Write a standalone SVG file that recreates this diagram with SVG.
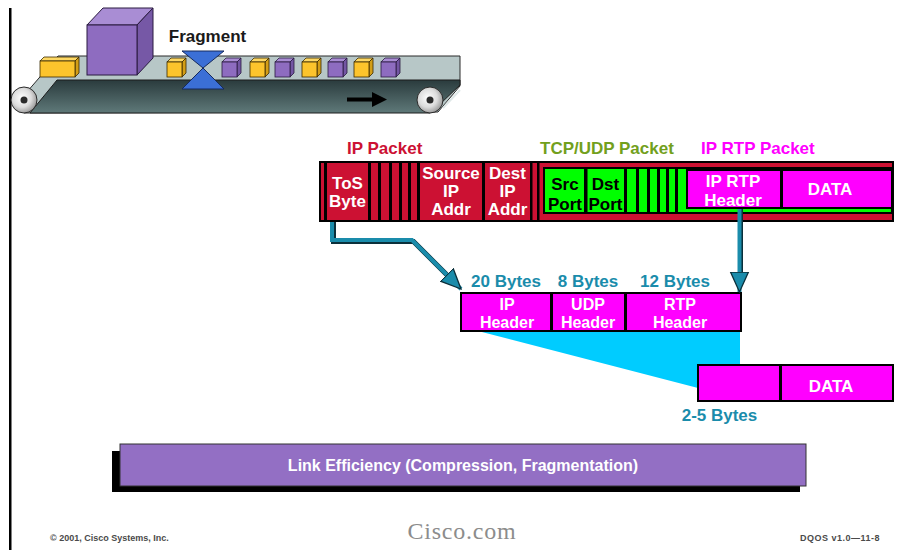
<svg xmlns="http://www.w3.org/2000/svg" width="909" height="550" viewBox="0 0 909 550">
  <style>
    .b { font-family: "Liberation Sans", Arial, sans-serif; font-weight: bold; }
    .lbl { font-size: 17px; }
    .cell { font-size: 17px; fill: #ffffff; text-anchor: middle; }
    .cells { font-size: 16px; fill: #ffffff; text-anchor: middle; }
    .cellk { font-size: 17px; fill: #000000; text-anchor: middle; }
    .teal { fill: #1a8cab; text-anchor: middle; font-size: 17px; }
    .box { stroke: #000; stroke-width: 2; }
    .mag { fill: #ff00ff; }
    .sep { fill: #000; }
    .foot { font-size: 9px; fill: #4a4a4a; }
  </style>
  <defs>
    <linearGradient id="beltFace" x1="0" y1="0" x2="0" y2="1">
      <stop offset="0" stop-color="#2a3b3d"/>
      <stop offset="1" stop-color="#5f7979"/>
    </linearGradient>
    <radialGradient id="rollerFill" cx="0.42" cy="0.42" r="0.65">
      <stop offset="0" stop-color="#ffffff"/>
      <stop offset="0.55" stop-color="#dcdcdc"/>
      <stop offset="1" stop-color="#8c8c8c"/>
    </radialGradient>
    <!-- small parcel cubes: front face 15x15 at origin -->
    <g id="cubeY" stroke="#3a2a00" stroke-width="0.8">
      <polygon points="0,0 4,-4 19,-4 15,0" fill="#fdd864"/>
      <polygon points="15,0 19,-4 19,11 15,15" fill="#d39e17"/>
      <rect x="0" y="0" width="15" height="15" fill="#fcc42c"/>
    </g>
    <g id="cubeP" stroke="#2a1a40" stroke-width="0.8">
      <polygon points="0,0 4,-4 19,-4 15,0" fill="#a98dd4"/>
      <polygon points="15,0 19,-4 19,11 15,15" fill="#7356a3"/>
      <rect x="0" y="0" width="15" height="15" fill="#8e6cc0"/>
    </g>
    <marker id="tealHead" markerUnits="userSpaceOnUse" markerWidth="22" markerHeight="22"
            viewBox="0 0 22 20" refX="20" refY="10" orient="auto">
      <path d="M0,1 L20,10 L0,19 z" fill="#1a8cab" stroke="#0b2f3a" stroke-width="1.3"/>
    </marker>
  </defs>

  <rect width="909" height="550" fill="#ffffff"/>
  <!-- page margin rule -->
  <rect x="9" y="8" width="2.5" height="542" fill="#000"/>

  <!-- conveyor belt scene -->
  <g id="conveyor">
    <polygon points="20,100 58,56 460,56 460,86 438,112 24,113" fill="#b7c7c7" stroke="#2b2b2b" stroke-width="1"/>
    <polygon points="57,80 460,80 460,85 438,106 430,113 30,113" fill="url(#beltFace)" stroke="#1c1c1c" stroke-width="1"/>
    <line x1="443" y1="108" x2="460" y2="90" stroke="#dfe8e8" stroke-width="2"/>
    <circle cx="24" cy="100" r="13" fill="url(#rollerFill)" stroke="#2b2b2b" stroke-width="1"/>
    <circle cx="24" cy="100" r="3.5" fill="#2b2b2b"/>
    <circle cx="430" cy="100" r="13" fill="url(#rollerFill)" stroke="#2b2b2b" stroke-width="1"/>
    <circle cx="430" cy="100" r="3.5" fill="#2b2b2b"/>
    <!-- direction arrow -->
    <rect x="347" y="97.5" width="26" height="4" fill="#000"/>
    <polygon points="372,92 387,99.5 372,107" fill="#000"/>
    <!-- long yellow parcel -->
    <g stroke="#3a2a00" stroke-width="0.8">
      <polygon points="40,61 44,57 79,57 75,61" fill="#fdd864"/>
      <polygon points="75,61 79,57 79,73 75,77" fill="#d39e17"/>
      <rect x="40" y="61" width="35" height="16" fill="#fcc42c"/>
    </g>
    <!-- large cube -->
    <g stroke="#2a1a40" stroke-width="1">
      <polygon points="87,25 103,8 153,8 137,25" fill="#a98dd4"/>
      <polygon points="137,25 153,8 153,58 137,75" fill="#7658a6"/>
      <rect x="87" y="25" width="50" height="50" fill="#8e6cc0"/>
    </g>
    <use href="#cubeY" x="167" y="62"/>
    <use href="#cubeP" x="222" y="62"/>
    <use href="#cubeY" x="250" y="62"/>
    <use href="#cubeP" x="275" y="62"/>
    <use href="#cubeY" x="302" y="62"/>
    <use href="#cubeP" x="328" y="62"/>
    <use href="#cubeY" x="354" y="62"/>
    <use href="#cubeP" x="381" y="62"/>
    <!-- fragmentation hourglass -->
    <g fill="#3b6fd6" stroke="#162a5c" stroke-width="1">
      <polygon points="182,51 224,51 203,68"/>
      <polygon points="203,68 224,89 182,89"/>
    </g>
    <text class="b lbl" x="207.5" y="42" text-anchor="middle" fill="#1a1a1a">Fragment</text>
  </g>

  <!-- packet headings -->
  <g id="headings" class="b lbl">
    <text x="347" y="154" fill="#cc1133">IP Packet</text>
    <text x="540" y="154" fill="#72a01c">TCP/UDP Packet</text>
    <text x="701" y="154" fill="#ff00ff">IP RTP Packet</text>
  </g>

  <!-- nested IP / UDP / RTP packet -->
  <g id="ip-packet">
    <rect x="320" y="162" width="573" height="59" fill="#cc1133" class="box"/>
    <g class="sep">
      <rect x="324" y="163" width="3" height="57"/>
      <rect x="368" y="163" width="3" height="57"/>
      <rect x="378" y="163" width="3" height="57"/>
      <rect x="389" y="163" width="3" height="57"/>
      <rect x="399" y="163" width="3" height="57"/>
      <rect x="408" y="163" width="3" height="57"/>
      <rect x="417" y="163" width="3" height="57"/>
      <rect x="482" y="163" width="3" height="57"/>
      <rect x="530" y="163" width="2.5" height="57"/>
      <rect x="537" y="163" width="2.5" height="57"/>
    </g>
    <text class="b cell" x="347.5" y="189">ToS</text>
    <text class="b cell" x="347.5" y="207">Byte</text>
    <text class="b cell" x="451" y="179">Source</text>
    <text class="b cell" x="451" y="197">IP</text>
    <text class="b cell" x="451" y="215">Addr</text>
    <text class="b cell" x="507.5" y="179">Dest</text>
    <text class="b cell" x="507.5" y="197">IP</text>
    <text class="b cell" x="507.5" y="215">Addr</text>
  </g>

  <g id="udp-packet">
    <rect x="544" y="168" width="348" height="45" fill="#00ff00" class="box"/>
    <g class="sep">
      <rect x="584" y="169" width="3.5" height="43"/>
      <rect x="624" y="169" width="3" height="43"/>
      <rect x="636" y="169" width="3" height="43"/>
      <rect x="647" y="169" width="3" height="43"/>
      <rect x="657" y="169" width="3" height="43"/>
      <rect x="666" y="169" width="3" height="43"/>
      <rect x="675" y="169" width="3" height="43"/>
    </g>
    <text class="b cellk" x="565" y="190">Src</text>
    <text class="b cellk" x="565" y="210">Port</text>
    <text class="b cellk" x="605.5" y="190">Dst</text>
    <text class="b cellk" x="605.5" y="210">Port</text>
  </g>

  <g id="rtp-packet">
    <rect x="687" y="170" width="94" height="38" class="box mag"/>
    <rect x="782" y="170" width="110" height="38" class="box mag"/>
    <text class="b cell" x="733" y="187">IP RTP</text>
    <text class="b cell" x="733" y="206">Header</text>
    <text class="b cell" x="830" y="195">DATA</text>
  </g>

  <!-- compression wedge -->
  <polygon id="compression-wedge" points="478,331 740,331 740,365 698,365 698,388" fill="#00ccff"/>

  <g id="full-headers">
    <rect x="461" y="293" width="90" height="38" class="box mag"/>
    <rect x="552" y="293" width="73" height="38" class="box mag"/>
    <rect x="626" y="293" width="115" height="38" class="box mag"/>
    <text class="b cells" x="507" y="310">IP</text>
    <text class="b cells" x="507" y="328">Header</text>
    <text class="b cells" x="588" y="310">UDP</text>
    <text class="b cells" x="588" y="328">Header</text>
    <text class="b cells" x="680" y="310">RTP</text>
    <text class="b cells" x="680" y="328">Header</text>
    <text class="b teal" x="506" y="287">20 Bytes</text>
    <text class="b teal" x="588" y="287">8 Bytes</text>
    <text class="b teal" x="675" y="287">12 Bytes</text>
  </g>

  <g id="compressed-packet">
    <rect x="698" y="365" width="82" height="36" class="box mag"/>
    <rect x="781" y="365" width="112" height="36" class="box mag"/>
    <text class="b cell" x="831" y="392">DATA</text>
    <text class="b teal" x="719.5" y="421">2-5 Bytes</text>
  </g>

  <!-- connectors -->
  <g id="connectors" fill="none">
    <path d="M333.5,222 V241.5 H413.5 L448,276" stroke="#0b2f3a" stroke-width="5"/>
    <path d="M740.5,209 V274" stroke="#0b2f3a" stroke-width="5"/>
    <path d="M332,222 V240 H412 L461,289" stroke="#1a8cab" stroke-width="4" stroke-linejoin="miter" marker-end="url(#tealHead)"/>
    <path d="M739.5,209 V292" stroke="#1a8cab" stroke-width="4" marker-end="url(#tealHead)"/>
  </g>

  <!-- banner -->
  <g id="link-efficiency">
    <rect x="112" y="451" width="688" height="41" fill="#000"/>
    <rect x="120" y="444" width="686" height="42" fill="#936fc4" stroke="#333" stroke-width="1"/>
    <text class="b" x="463" y="471" font-size="16" fill="#ffffff" text-anchor="middle">Link Efficiency (Compression, Fragmentation)</text>
  </g>

  <!-- footer -->
  <g id="footer">
    <text class="b foot" x="50" y="541">© 2001, Cisco Systems, Inc.</text>
    <text x="462" y="539" font-family="Liberation Serif, Times New Roman, serif" font-size="24" letter-spacing="0.8" fill="#8c8c8c" text-anchor="middle">Cisco.com</text>
    <text class="b foot" x="880" y="541" text-anchor="end" letter-spacing="0.5">DQOS v1.0—11-8</text>
  </g>
</svg>
